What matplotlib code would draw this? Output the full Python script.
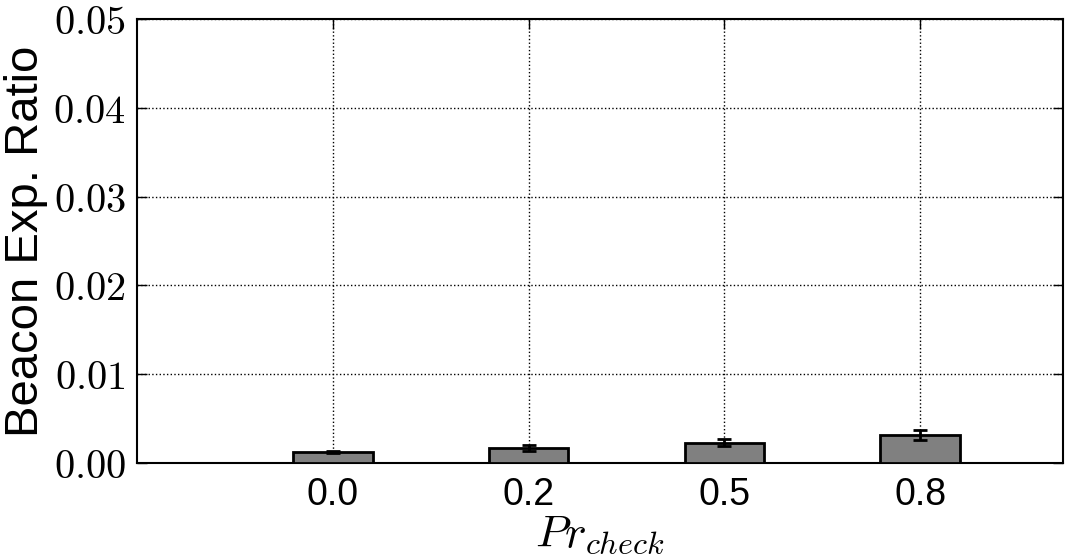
import numpy as np
import matplotlib
matplotlib.use('Agg')
import matplotlib.pyplot as plt
from matplotlib.ticker import FuncFormatter

# data
categories = ['0.0', '0.2', '0.5', '0.8']
ratio = [0.00127, 0.00172, 0.00229, 0.00315]
err = [0.0001, 0.00035, 0.00038, 0.00055]

plt.rcParams['font.family'] = ['Liberation Sans', 'DejaVu Sans']
plt.rcParams['mathtext.fontset'] = 'cm'

fig = plt.figure(figsize=(10.8, 5.55), dpi=100)
ax = fig.add_axes([137/1080, 1 - 463/555, 926/1080, 444/555])

x = np.arange(len(categories))
ax.bar(x, ratio, width=0.406, color='#808080', edgecolor='black', linewidth=2,
       yerr=err, capsize=5, error_kw=dict(ecolor='black', elinewidth=2, capthick=2),
       zorder=3)

ax.set_xlim(-1.0, 3.73)
ax.set_ylim(0, 0.05)
ax.set_xticks(x)
ax.set_xticklabels(categories, fontsize=27)
ax.set_yticks(np.arange(0, 0.051, 0.01))
ax.yaxis.set_major_formatter(FuncFormatter(lambda v, p: r'$%.2f$' % v))
ax.tick_params(axis='y', labelsize=29)
ax.tick_params(direction='in', length=7, width=1, top=True, right=True, pad=8)
ax.tick_params(axis='x', pad=10)
for t in ax.xaxis.get_major_ticks():
    t.tick1line.set_zorder(4)

ax.grid(True, linestyle=':', color='black', linewidth=1, zorder=0)
ax.set_axisbelow(True)
for s in ax.spines.values():
    s.set_linewidth(1.5)

ax.set_ylabel('Beacon Exp. Ratio', fontsize=34, labelpad=4)
ax.set_xlabel(r'$Pr_{check}$', fontsize=33, labelpad=0)

fig.savefig('out.png', dpi=100)
